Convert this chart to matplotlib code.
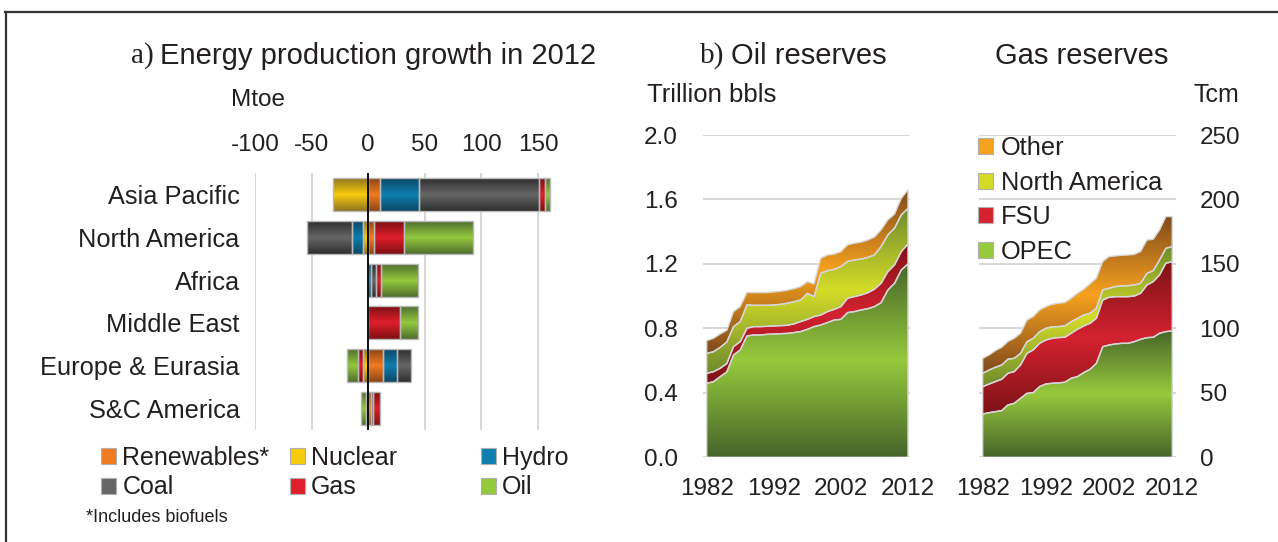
import numpy as np
import matplotlib
matplotlib.use("Agg")
import matplotlib.pyplot as plt
from matplotlib.colors import LinearSegmentedColormap
from matplotlib.patches import Patch
from matplotlib.lines import Line2D

plt.rcParams['font.family'] = ['Liberation Sans', 'DejaVu Sans']
TXT = '#231f20'
GRID = '#d4d4d4'

# a) Energy production growth in 2012 (Mtoe)
regions = ['Asia Pacific', 'North America', 'Africa', 'Middle East',
           'Europe & Eurasia', 'S&C America']
renewables = [10, 5, 0, 0, 13, 2]
nuclear = [-31, -4.5, 0, 0, -4.5, 0]
hydro = [35, -10, 2, 0, 12, -2]
coal = [106, -40, 4.5, 0, 13, 2.5]
gas = [5.5, 26.5, 4.5, 28, -4.5, 6]
oil = [4, 61, 33, 16, -9.5, -4]
fuel_names = ['Renewables*', 'Nuclear', 'Hydro', 'Coal', 'Gas', 'Oil']
mtoe_ticks = [-100, -50, 0, 50, 100, 150]

# b) Oil reserves (trillion bbls) and gas reserves (Tcm)
years = np.arange(1982, 2013)
oil_opec = [0.459, 0.469, 0.50, 0.53, 0.635, 0.666, 0.753, 0.759, 0.759, 0.763,
            0.765, 0.767, 0.769, 0.774, 0.78, 0.794, 0.811, 0.821, 0.836, 0.852,
            0.856, 0.898, 0.904, 0.914, 0.922, 0.935, 0.96, 1.038, 1.08, 1.162, 1.2]
oil_fsu = [0.062, 0.062, 0.052, 0.052, 0.052, 0.052, 0.048, 0.052, 0.052, 0.05,
           0.05, 0.05, 0.05, 0.054, 0.062, 0.062, 0.062, 0.062, 0.068, 0.066,
           0.079, 0.089, 0.093, 0.093, 0.099, 0.108, 0.12, 0.114, 0.114, 0.114, 0.124]
oil_na = [0.124, 0.124, 0.13, 0.134, 0.124, 0.124, 0.145, 0.132, 0.132, 0.13,
          0.13, 0.132, 0.137, 0.137, 0.134, 0.161, 0.124, 0.259, 0.254, 0.248,
          0.248, 0.228, 0.228, 0.223, 0.219, 0.213, 0.228, 0.228, 0.228, 0.228, 0.221]
oil_other = [0.079, 0.083, 0.083, 0.072, 0.093, 0.093, 0.077, 0.079, 0.079, 0.079,
             0.081, 0.081, 0.081, 0.081, 0.083, 0.072, 0.079, 0.093, 0.097, 0.095,
             0.093, 0.103, 0.103, 0.105, 0.108, 0.11, 0.103, 0.093, 0.087, 0.103, 0.114]

gas_opec = [33.6, 34.6, 35.4, 36.2, 40.6, 41.9, 45.8, 49.6, 50.2, 54.8, 56.9,
            57.4, 57.7, 58.2, 61.3, 62.6, 65.7, 68.3, 72.9, 85.8, 87.1, 87.9,
            88.4, 88.4, 89.7, 91.5, 92.8, 93.1, 96.2, 97.5, 98.0]
gas_fsu = [21.2, 22.2, 23.3, 24.3, 24.6, 24.6, 25.9, 31.0, 33.1, 33.6, 34.1,
           34.9, 35.2, 34.9, 34.9, 36.7, 36.2, 35.7, 34.9, 36.2, 37.0, 36.7,
           36.2, 36.2, 35.4, 35.7, 40.8, 43.2, 45.2, 53.0, 53.8]
gas_na = [10.3, 10.9, 11.1, 11.1, 10.9, 10.3, 9.0, 9.0, 9.0, 9.0, 9.0, 9.0,
          8.5, 8.8, 9.0, 8.5, 8.5, 7.8, 7.8, 7.8, 7.0, 7.8, 8.3, 8.5, 8.5, 7.8,
          9.0, 8.5, 11.6, 11.6, 11.6]
gas_other = [11.6, 11.6, 12.9, 13.7, 13.7, 15.5, 15.5, 16.8, 16.8, 16.8, 16.8,
             17.3, 18.1, 18.1, 18.1, 19.4, 19.9, 22.8, 23.3, 22.0, 24.6, 23.8,
             23.8, 23.8, 23.8, 24.6, 25.9, 24.3, 23.3, 24.6, 23.3]
reserve_names = ['OPEC', 'FSU', 'North America', 'Other']

# (light, dark) pairs for the shaded fills
fuel_cols = [('#f07c22', '#8c4414'), ('#f9cb0d', '#8f7420'), ('#0e7fb0', '#0b4766'),
             ('#666666', '#2e2e2e'), ('#e01f2b', '#7d0f14'), ('#94c83d', '#4f6e2e')]
res_cols = [('#97c93c', '#46652a'), ('#d42230', '#7c1216'),
            ('#d5dc27', '#6e8b2e'), ('#f7a21f', '#7f4a1b')]

GRAD = np.linspace(0, 1, 256).reshape(-1, 1)


def shade(ax, clip, bbox, light, dark, z, transform=None):
    cmap = LinearSegmentedColormap.from_list('', [dark, light, dark])
    im = ax.imshow(GRAD, cmap=cmap, origin='lower', aspect='auto',
                   extent=(bbox.x0, bbox.x1, bbox.y0, bbox.y1),
                   interpolation='bilinear', zorder=z)
    if transform is None:
        im.set_clip_path(clip)
    else:
        im.set_clip_path(clip, transform)


W, H = 1278, 542
fig = plt.figure(figsize=(W / 100, H / 100), dpi=100)


def fx(px):
    return px / W


def fy(py):
    return 1 - py / H


# ---- frame
fig.add_artist(Line2D([fx(5), 1], [fy(12), fy(12)], color='#333333', lw=1.6))
fig.add_artist(Line2D([fx(6), fx(6)], [0, fy(12)], color='#333333', lw=1.6))

# ---- a) bar chart
ax1 = fig.add_axes([fx(255), fy(430), fx(308), (430 - 173) / H])
ypos = np.arange(len(regions))
pos = np.zeros(len(regions))
neg = np.zeros(len(regions))
for vals, (light, dark) in zip([renewables, nuclear, hydro, coal, gas, oil], fuel_cols):
    v = np.array(vals, dtype=float)
    left = np.where(v >= 0, pos, neg)
    bars = ax1.barh(ypos, v, left=left, height=0.77, facecolor='none',
                    edgecolor='#b8b8b8', lw=1.0, zorder=3)
    for rect, val in zip(bars, v):
        if val == 0:
            rect.set_visible(False)
            continue
        shade(ax1, rect, rect.get_bbox(), light, dark, 2)
    pos = pos + np.where(v > 0, v, 0)
    neg = neg + np.where(v < 0, v, 0)

ax1.axvline(0, color='black', lw=1.3, zorder=4)
ax1.set_xlim(-100, 172)
ax1.set_ylim(5.5, -0.5)
ax1.set_xticks(mtoe_ticks)
ax1.set_xticklabels([str(t) for t in mtoe_ticks])
ax1.set_yticks(ypos)
ax1.set_yticklabels(regions)
ax1.xaxis.grid(True, color=GRID, lw=1.3)
ax1.set_axisbelow(True)
ax1.tick_params(axis='x', top=True, labeltop=True, bottom=False, labelbottom=False,
                length=0, pad=12, labelsize=17.5, labelcolor=TXT)
ax1.tick_params(axis='y', length=0, pad=11, labelsize=18.3, labelcolor=TXT)
for s in ax1.spines.values():
    s.set_visible(False)

# legend under the bar chart: three columns
handles = [Patch(facecolor=c[0], edgecolor='#b0b0b0', lw=0.8) for c in fuel_cols]
for col, xpx in enumerate([101, 290, 481]):
    lg = fig.legend([handles[col], handles[col + 3]], [fuel_names[col], fuel_names[col + 3]],
                    loc='upper left', bbox_to_anchor=(fx(xpx), fy(446)), frameon=False,
                    fontsize=18, handlelength=0.6, handleheight=0.6, handletextpad=0.25,
                    labelspacing=0.22, borderpad=0, borderaxespad=0)
    for t in lg.get_texts():
        t.set_color(TXT)
fig.text(fx(86), fy(517), '*Includes biofuels', fontsize=13, color=TXT, va='center')

# ---- b) oil and gas reserves
def area(ax, series, top):
    polys = ax.stackplot(years, *series, colors=['none'] * len(series),
                         edgecolor='#d6d6d6', lw=1.0, zorder=3)
    for poly, (light, dark) in zip(polys, res_cols):
        path = poly.get_paths()[0]
        shade(ax, path, path.get_extents(), light, dark, 2, ax.transData)
    ax.set_ylim(0, top)
    ax.yaxis.grid(True, color=GRID, lw=1.3)
    ax.set_axisbelow(True)
    ax.set_xticks([1982, 1992, 2002, 2012])
    ax.tick_params(axis='x', length=0, pad=15, labelsize=17.5, labelcolor=TXT)
    ax.tick_params(axis='y', length=0, labelsize=17.5, labelcolor=TXT)
    for s in ax.spines.values():
        s.set_visible(False)
    return polys


ax2 = fig.add_axes([fx(702.7), fy(457.3), fx(207.3), (457.3 - 135) / H])
area(ax2, [oil_opec, oil_fsu, oil_na, oil_other], 2.0)
ax2.set_xlim(1981.4, 2012.3)
ax2.set_yticks([0.0, 0.4, 0.8, 1.2, 1.6, 2.0])
ax2.set_yticklabels(['0.0', '0.4', '0.8', '1.2', '1.6', '2.0'])
ax2.tick_params(axis='y', pad=18)

ax3 = fig.add_axes([fx(979.3), fy(457.3), fx(196.7), (457.3 - 135) / H])
area(ax3, [gas_opec, gas_fsu, gas_na, gas_other], 250)
ax3.set_xlim(1981.46, 2012.6)
ax3.set_yticks([0, 50, 100, 150, 200, 250])
ax3.yaxis.tick_right()
ax3.tick_params(axis='y', left=False, right=False, pad=17)

gh = [Patch(facecolor=c[0], edgecolor='#b0b0b0', lw=0.8) for c in res_cols]
lg = ax3.legend(gh[::-1], reserve_names[::-1], loc='upper left',
                bbox_to_anchor=(fx(978), fy(136)), bbox_transform=fig.transFigure,
                frameon=False, fontsize=18.3, handlelength=0.6, handleheight=0.6,
                handletextpad=0.3, labelspacing=0.42, borderpad=0, borderaxespad=0)
for t in lg.get_texts():
    t.set_color(TXT)

# ---- titles and unit labels
fig.text(fx(131), fy(56), 'a)', family=['Liberation Serif'], fontsize=21, color=TXT, va='center')
fig.text(fx(160), fy(56), 'Energy production growth in 2012', fontsize=21, color=TXT, va='center')
fig.text(fx(700), fy(56), 'b)', family=['Liberation Serif'], fontsize=21, color=TXT, va='center')
fig.text(fx(731), fy(56), 'Oil reserves', fontsize=21, color=TXT, va='center')
fig.text(fx(995), fy(56), 'Gas reserves', fontsize=21, color=TXT, va='center')
fig.text(fx(231), fy(100), 'Mtoe', fontsize=17.5, color=TXT, va='center')
fig.text(fx(647), fy(95), 'Trillion bbls', fontsize=18.5, color=TXT, va='center')
fig.text(fx(1193), fy(95), 'Tcm', fontsize=18, color=TXT, va='center')

fig.savefig('out.png', dpi=100)
